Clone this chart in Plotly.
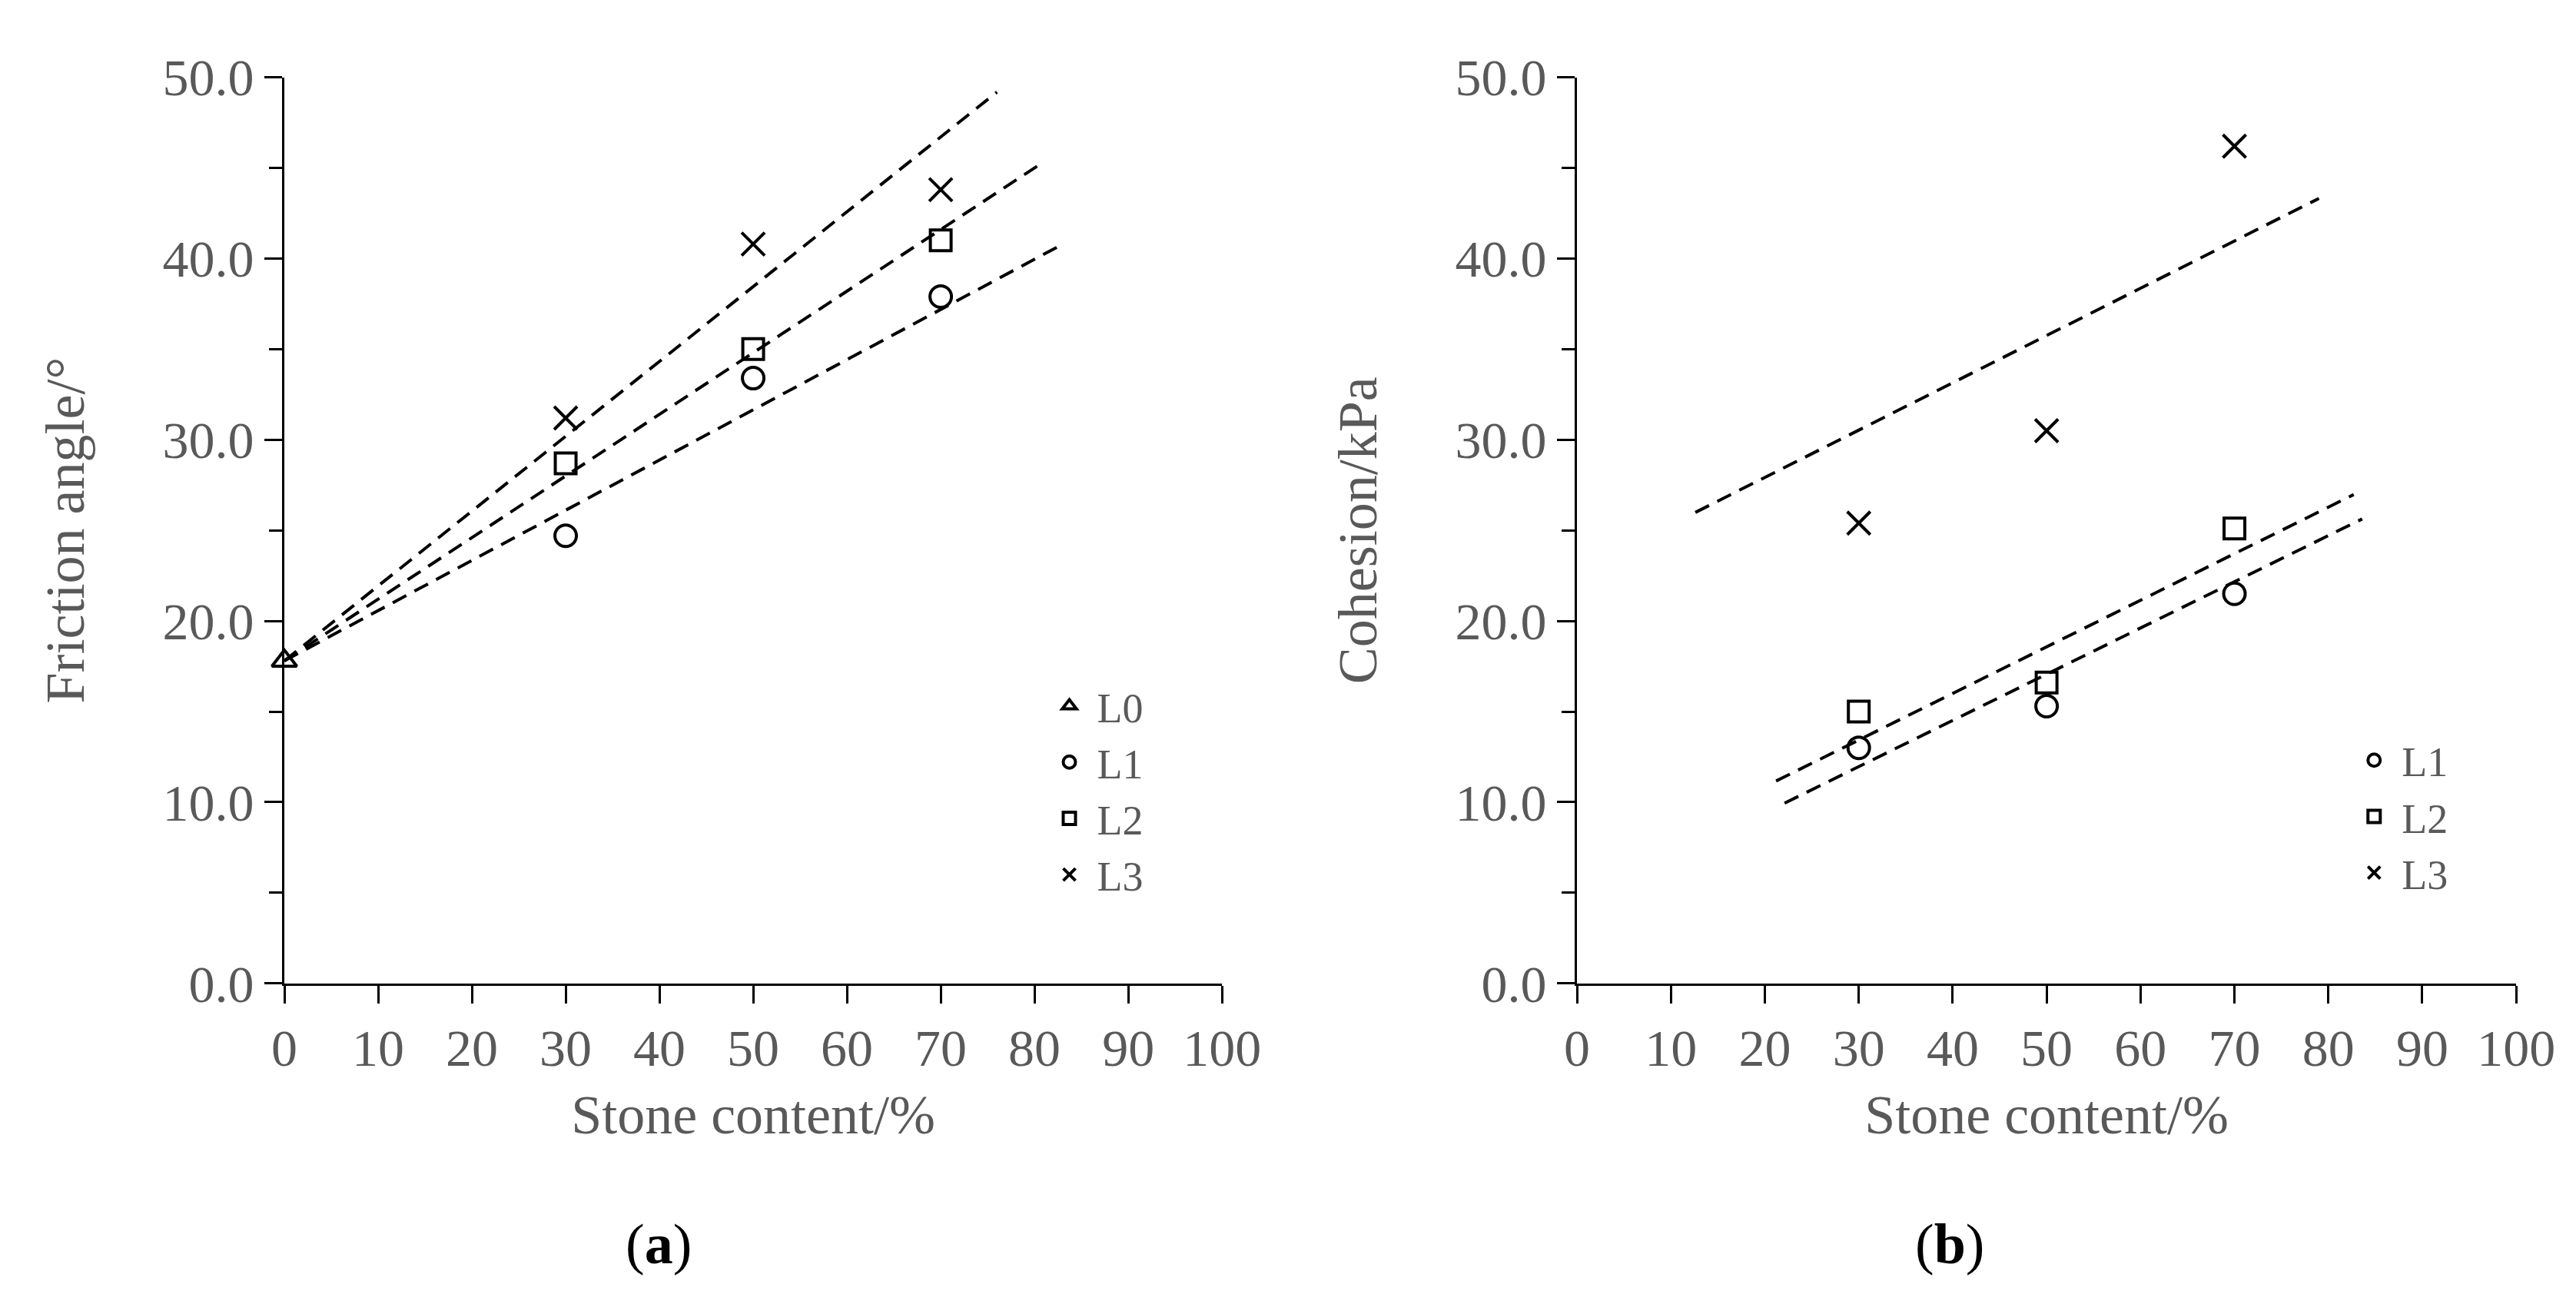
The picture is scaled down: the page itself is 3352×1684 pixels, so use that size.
import plotly.graph_objects as go

# ---------------- data ----------------
stone_content = [30, 50, 70]
l0_stone = [0]

friction_l0 = [17.8]
friction_l1 = [24.7, 33.4, 37.9]
friction_l2 = [28.7, 35.0, 41.0]
friction_l3 = [31.2, 40.8, 43.8]

cohesion_l1 = [13.0, 15.3, 21.5]
cohesion_l2 = [15.0, 16.6, 25.1]
cohesion_l3 = [25.4, 30.5, 46.2]

# dashed trend lines (L1, L2, L3): x start, x end, intercept, slope
friction_trend_start = [0.0, 0.0, 0.0]
friction_trend_end = [82.5, 81.0, 76.0]
friction_trend_intercept = [17.8, 17.8, 17.8]
friction_trend_slope = [0.277, 0.340, 0.413]

cohesion_trend_start = [22.1, 21.2, 12.6]
cohesion_trend_end = [83.6, 82.7, 79.0]
cohesion_trend_intercept = [4.31, 5.72, 22.7]
cohesion_trend_slope = [0.255, 0.257, 0.261]

x_ticks = list(range(0, 101, 10))
y_ticks = [0, 10, 20, 30, 40, 50]

series_names = ["L1", "L2", "L3"]
# ----------------------------------------------------------------

FONT = "Liberation Serif"
GRAY = "#595959"
symbols = ["circle-open", "square-open", "x-thin-open"]
sizes = [28, 27, 30]

fig = go.Figure()

def add_trends(starts, ends, b, m, xa, ya):
    for s, e, bb, mm in zip(starts, ends, b, m):
        fig.add_trace(go.Scatter(
            x=[s, e], y=[bb + mm * s, bb + mm * e], mode="lines",
            line=dict(color="black", width=4, dash="20px,12px"),
            showlegend=False, hoverinfo="skip", xaxis=xa, yaxis=ya,
            cliponaxis=False))

# ---- panel (a) ----
add_trends(friction_trend_start, friction_trend_end, friction_trend_intercept,
           friction_trend_slope, "x", "y")
fig.add_trace(go.Scatter(
    x=l0_stone, y=friction_l0, mode="markers", name="L0",
    marker=dict(symbol="triangle-up-open", size=28, color="black",
                line=dict(width=4, color="black")),
    xaxis="x", yaxis="y", legend="legend", cliponaxis=False))
for name, ys, sym, sz in zip(series_names, [friction_l1, friction_l2, friction_l3], symbols, sizes):
    fig.add_trace(go.Scatter(
        x=stone_content, y=ys, mode="markers", name=name,
        marker=dict(symbol=sym, size=sz, color="black",
                    line=dict(width=4, color="black")),
        xaxis="x", yaxis="y", legend="legend", cliponaxis=False))

# ---- panel (b) ----
add_trends(cohesion_trend_start, cohesion_trend_end, cohesion_trend_intercept,
           cohesion_trend_slope, "x2", "y2")
for name, ys, sym, sz in zip(series_names, [cohesion_l1, cohesion_l2, cohesion_l3], symbols, sizes):
    fig.add_trace(go.Scatter(
        x=stone_content, y=ys, mode="markers", name=name,
        marker=dict(symbol=sym, size=sz, color="black",
                    line=dict(width=4, color="black")),
        xaxis="x2", yaxis="y2", legend="legend2", cliponaxis=False))

tickfont = dict(family=FONT, size=68, color=GRAY)
titlefont = dict(family=FONT, size=72, color=GRAY)

def xaxis(domain, anchor):
    return dict(domain=domain, anchor=anchor, range=[0, 100], tickvals=x_ticks,
                ticks="outside", ticklen=23, tickwidth=3, tickcolor="black",
                showline=True, linecolor="black", linewidth=3,
                showgrid=False, zeroline=False, tickfont=tickfont,
                title=dict(text="Stone content/%", font=titlefont, standoff=24),
                automargin=False, fixedrange=True)

def yaxis(domain, anchor, title):
    return dict(domain=domain, anchor=anchor, range=[0, 50], tickvals=y_ticks,
                tickformat=".1f",
                ticks="outside", ticklen=23, tickwidth=3, tickcolor="black",
                minor=dict(dtick=5, ticks="outside", ticklen=17, tickwidth=3,
                           tickcolor="black", showgrid=False),
                showline=True, linecolor="black", linewidth=3,
                showgrid=False, zeroline=False, tickfont=tickfont,
                title=dict(text=title, font=titlefont, standoff=79),
                automargin=False, fixedrange=True)

legend_font = dict(family=FONT, size=54, color=GRAY)

fig.update_layout(
    width=3352, height=1684,
    margin=dict(l=0, r=0, t=0, b=0, autoexpand=False),
    paper_bgcolor="white", plot_bgcolor="white",
    xaxis=xaxis([0.108, 0.472], "y"),
    yaxis=yaxis([0.2448, 0.945], "x", "Friction angle/°"),
    xaxis2=xaxis([0.6098, 0.9744], "y2"),
    yaxis2=yaxis([0.2448, 0.945], "x2", "Cohesion/kPa"),
    legend=dict(x=0.402, y=0.484, xanchor="left", yanchor="top",
                font=legend_font, bgcolor="rgba(0,0,0,0)", itemwidth=62,
                tracegroupgap=0),
    legend2=dict(x=0.9085, y=0.442, xanchor="left", yanchor="top",
                 font=legend_font, bgcolor="rgba(0,0,0,0)", itemwidth=62,
                 tracegroupgap=0),
    annotations=[
        dict(text="(<b>a</b>)", x=0.2533, y=0.0433, xref="paper", yref="paper",
             xanchor="center", yanchor="middle", showarrow=False,
             font=dict(family=FONT, size=74, color="black")),
        dict(text="(<b>b</b>)", x=0.7545, y=0.0433, xref="paper", yref="paper",
             xanchor="center", yanchor="middle", showarrow=False,
             font=dict(family=FONT, size=74, color="black")),
    ],
)

fig.write_html("out.html")
